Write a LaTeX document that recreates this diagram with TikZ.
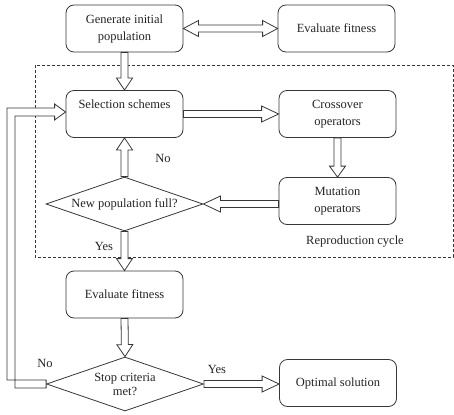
\documentclass[tikz,border=0pt]{standalone}
\usepackage{fontspec}
\setmainfont{Liberation Serif}
\usetikzlibrary{shapes.geometric,calc}

\definecolor{linegray}{RGB}{55,55,55}
\definecolor{textgray}{RGB}{35,35,35}

\tikzset{
  block/.style={draw=linegray, line width=0.8pt, rounded corners=8pt,
    minimum width=117pt, minimum height=47pt, inner sep=2pt, align=center,
    text=textgray, font=\fontsize{12.5}{17}\selectfont},
  decision/.style={draw=linegray, line width=0.8pt, diamond, aspect=2.9,
    minimum width=157pt, minimum height=54pt, inner sep=0pt, align=center,
    text=textgray, font=\fontsize{12.5}{14}\selectfont},
  fatarrow/.style={draw=linegray, fill=white, line width=0.8pt, line join=miter},
  tag/.style={text=textgray, font=\fontsize{12.5}{14}\selectfont}
}

% hollow arrow from #2 to #3, head length #1
\newcommand{\harrow}[3][13]{%
  \filldraw[fatarrow] let \p1=(#2), \p2=(#3),
    \n1={atan2(\y2-\y1,\x2-\x1)}, \n2={veclen(\x2-\x1,\y2-\y1)},
    \n3={\n2-#1pt} in
    ([shift={(\p1)},rotate=\n1]0pt,-3.5pt) -- ([shift={(\p1)},rotate=\n1]\n3,-3.5pt)
    -- ([shift={(\p1)},rotate=\n1]\n3,-8pt) -- ([shift={(\p1)},rotate=\n1]\n2,0pt)
    -- ([shift={(\p1)},rotate=\n1]\n3,8pt) -- ([shift={(\p1)},rotate=\n1]\n3,3.5pt)
    -- ([shift={(\p1)},rotate=\n1]0pt,3.5pt) -- cycle;}
% hollow arrow with two heads
\newcommand{\dharrow}[2]{%
  \filldraw[fatarrow] let \p1=(#1), \p2=(#2),
    \n1={atan2(\y2-\y1,\x2-\x1)}, \n2={veclen(\x2-\x1,\y2-\y1)},
    \n3={\n2-15pt} in
    ([shift={(\p1)},rotate=\n1]0pt,0pt) -- ([shift={(\p1)},rotate=\n1]15pt,-8pt)
    -- ([shift={(\p1)},rotate=\n1]15pt,-3.5pt) -- ([shift={(\p1)},rotate=\n1]\n3,-3.5pt)
    -- ([shift={(\p1)},rotate=\n1]\n3,-8pt) -- ([shift={(\p1)},rotate=\n1]\n2,0pt)
    -- ([shift={(\p1)},rotate=\n1]\n3,8pt) -- ([shift={(\p1)},rotate=\n1]\n3,3.5pt)
    -- ([shift={(\p1)},rotate=\n1]15pt,3.5pt) -- ([shift={(\p1)},rotate=\n1]15pt,8pt)
    -- cycle;}

\begin{document}
\begin{tikzpicture}[x=1pt,y=-1pt]
\useasboundingbox (0,0) rectangle (454,414);

% reproduction cycle frame
\draw[linegray, line width=0.7pt, dash pattern=on 3pt off 2pt] (35,65) rectangle (453,257);
\node[tag] (cycle) at (355,242) {Reproduction cycle};

\node[block] (gen)   at (124.5,28.5) {Generate initial\\population};
\node[block] (evalt) at (336.5,28.5) {Evaluate fitness};
\node[block] (sel)   at (124.5,114)  {Selection schemes\\[2pt]~};
\node[block] (cross) at (337.5,114)  {Crossover\\operators};
\node[block] (mut)   at (337.5,201)  {Mutation\\operators};
\node[decision] (full) at (124.5,204) {New population full?};
\node[block] (evalb) at (124.5,294.5) {Evaluate fitness};
\node[decision] (stop) at (125,384)  {Stop criteria\\met?};
\node[block] (opt)   at (338,383)    {Optimal solution};

\node[tag] (no1)  at (163,158) {No};
\node[tag] (yes1) at (104,246) {Yes};
\node[tag] (no2)  at (45,363)  {No};
\node[tag] (yes2) at (217,369) {Yes};

\dharrow{gen.east}{evalt.west}
\harrow[12]{gen.south}{sel.north}
\harrow[17]{sel.east}{cross.west}
\harrow[11]{cross.south}{mut.north}
\harrow[17]{mut.west |- full.east}{full.east}
\harrow[12]{full.north}{sel.south}
\harrow[12]{full.south}{evalb.north}
\harrow[12]{evalb.south}{stop.north}
\harrow[17]{stop.east}{opt.west |- stop.east}

% loop back to selection
\filldraw[fatarrow] let \p1=(stop.west), \p2=([yshift=2pt]sel.west) in
  (\x1,\y1+4pt) -- (7,\y1+4pt) -- (7,\y2+4pt) -- (\x2-11pt,\y2+4pt)
  -- (\x2-11pt,\y2+8pt) -- (\p2) -- (\x2-11pt,\y2-8pt) -- (\x2-11pt,\y2-4pt)
  -- (15,\y2-4pt) -- (15,\y1-4pt) -- (\x1,\y1-4pt) -- cycle;
\end{tikzpicture}
\end{document}
